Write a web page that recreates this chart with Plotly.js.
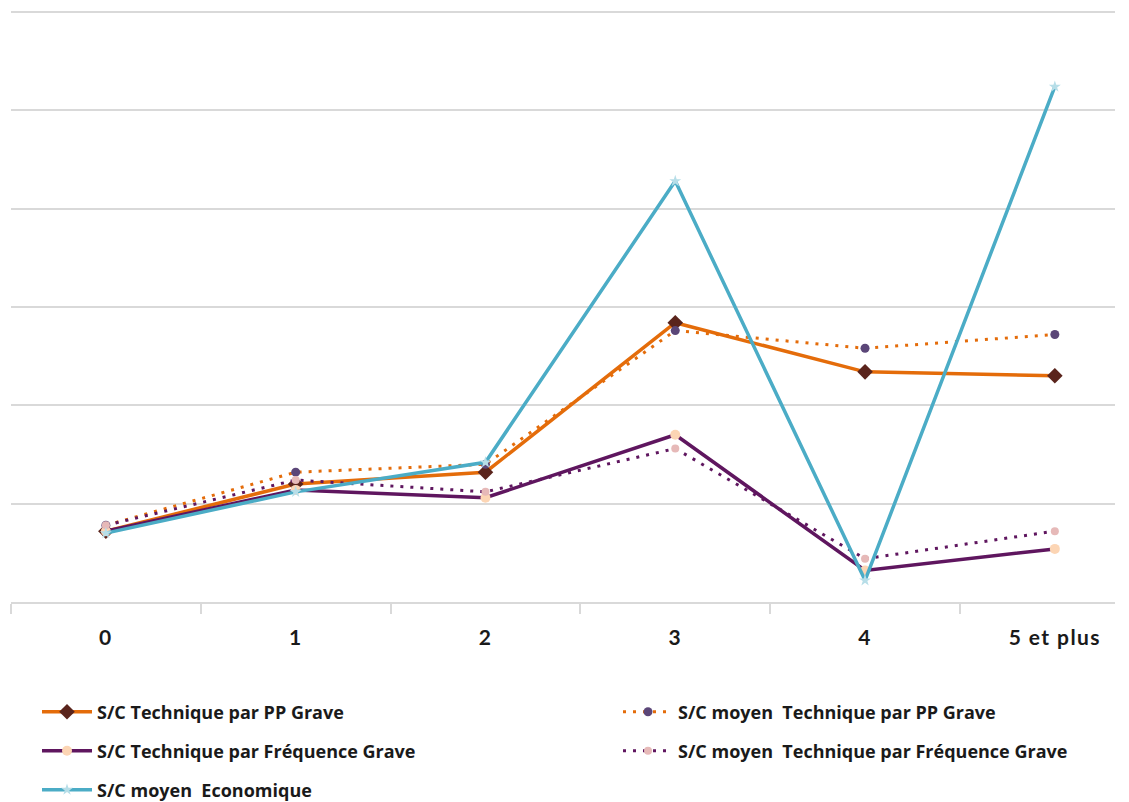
<!DOCTYPE html>
<html>
<head>
<meta charset="utf-8">
<script src="https://cdn.plot.ly/plotly-3.0.1.min.js"></script>
<style>
  html, body { margin: 0; padding: 0; background: #ffffff; }
  #chart { width: 1129px; height: 802px; }
  #chart .xtick text { letter-spacing: 1.4px; }
</style>
</head>
<body>
<div id="chart"></div>
<script>
// Nombre de sinistres graves : catégories de l'axe horizontal
const categories = ['0', '1', '2', '3', '4', '5 et plus'];

// Ratios S/C par nombre de sinistres graves
const techPP      = [0.36, 0.60, 0.66, 1.42, 1.17, 1.15];
const moyenPP     = [0.39, 0.66, 0.70, 1.38, 1.29, 1.36];
const techFreq    = [0.36, 0.57, 0.53, 0.85, 0.16, 0.27];
const moyenFreq   = [0.39, 0.62, 0.56, 0.78, 0.22, 0.36];
const moyenEco    = [0.35, 0.56, 0.71, 2.14, 0.11, 2.62];

const seriesNames = [
  'S/C Technique par PP Grave',
  'S/C moyen  Technique par PP Grave',
  'S/C Technique par Fréquence Grave',
  'S/C moyen  Technique par Fréquence Grave',
  'S/C moyen  Economique'
];

const ORANGE = '#e46c0a';
const PURPLE = '#5f165f';
const TEAL   = '#4bacc6';
const DOTS   = '3px,7px';

const traces = [
  {
    x: categories, y: techPP, name: seriesNames[0], legend: 'legend',
    mode: 'lines+markers',
    line: { color: ORANGE, width: 3.5 },
    marker: { symbol: 'diamond', size: 12, color: '#5a241c' }
  },
  {
    x: categories, y: moyenPP, name: seriesNames[1], legend: 'legend2',
    mode: 'lines+markers',
    line: { color: ORANGE, width: 3, dash: DOTS },
    marker: { symbol: 'circle', size: 9, color: '#5b4678' }
  },
  {
    x: categories, y: techFreq, name: seriesNames[2], legend: 'legend3',
    mode: 'lines+markers',
    line: { color: PURPLE, width: 3.5 },
    marker: { symbol: 'circle', size: 10, color: '#fcd5b4' }
  },
  {
    x: categories, y: moyenFreq, name: seriesNames[3], legend: 'legend4',
    mode: 'lines+markers',
    line: { color: PURPLE, width: 3, dash: DOTS },
    marker: { symbol: 'circle', size: 8, color: '#e6b9b8' }
  },
  {
    x: categories, y: moyenEco, name: seriesNames[4], legend: 'legend5',
    mode: 'lines+markers',
    line: { color: TEAL, width: 3.5 },
    marker: { symbol: 'star', size: 9, color: '#b7dee8' }
  }
];

const legendFont = { family: '"Open Sans", Lato, sans-serif', size: 18, color: '#1a1a1a', weight: 'bold' };
// One legend entry per box, laid out in two columns below the plot
function legendAt(xPx, yPx) {
  return {
    xref: 'container', yref: 'container',
    x: xPx / 1129, xanchor: 'left',
    y: 1 - yPx / 802, yanchor: 'middle',
    itemwidth: 50,
    font: legendFont, bgcolor: 'rgba(0,0,0,0)'
  };
}

const layout = {
  width: 1129, height: 802,
  margin: { l: 11, r: 14, t: 8, b: 200, autoexpand: false },
  paper_bgcolor: '#ffffff', plot_bgcolor: '#ffffff',
  showlegend: true,
  xaxis: {
    type: 'category',
    range: [-0.5, 5.317],
    tickson: 'boundaries',
    ticks: 'outside', ticklen: 10, tickwidth: 2, tickcolor: '#d9d9d9',
    showline: true, linecolor: '#d9d9d9', linewidth: 2,
    showgrid: false, zeroline: false,
    ticklabelstandoff: 16,
    tickfont: { family: 'Lato, "Open Sans", sans-serif', size: 21, color: '#1a1a1a', weight: 'bold' },
    fixedrange: true
  },
  yaxis: {
    range: [0, 3.02], dtick: 0.5,
    showticklabels: false, ticks: '',
    showgrid: true, gridcolor: '#d9d9d9', gridwidth: 2,
    zeroline: false, showline: false,
    fixedrange: true
  },
  legend:  legendAt(37, 712),
  legend2: legendAt(618, 712),
  legend3: legendAt(37, 751),
  legend4: legendAt(618, 751),
  legend5: legendAt(37, 790)
};

Plotly.newPlot('chart', traces, layout, { displayModeBar: false, staticPlot: true });
</script>
</body>
</html>
